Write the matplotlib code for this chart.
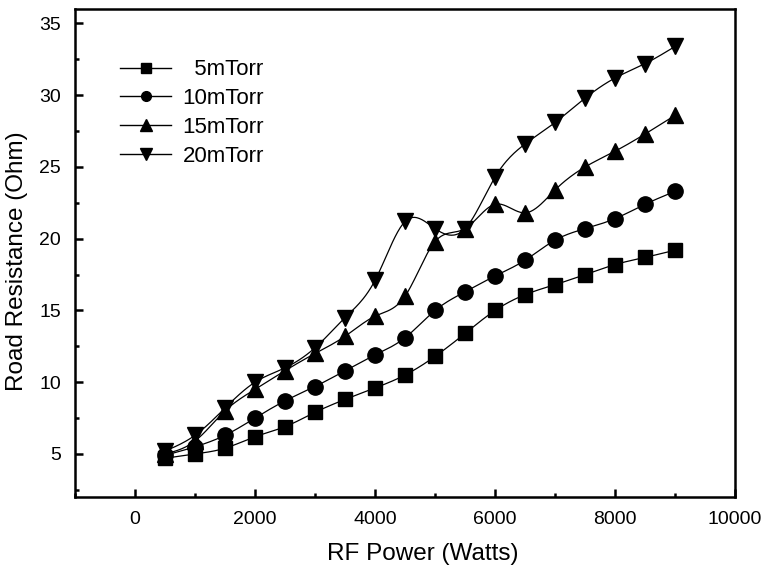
import numpy as np
import matplotlib
matplotlib.use("Agg")
import matplotlib.pyplot as plt
from matplotlib.ticker import MultipleLocator

plt.rcParams['font.family'] = ['Liberation Sans', 'DejaVu Sans']

power = [500, 1000, 1500, 2000, 2500, 3000, 3500, 4000, 4500,
         5000, 5500, 6000, 6500, 7000, 7500, 8000, 8500, 9000]
r5 = [4.7, 5.0, 5.4, 6.2, 6.9, 7.9, 8.8, 9.6, 10.5,
      11.8, 13.4, 15.0, 16.1, 16.8, 17.5, 18.2, 18.7, 19.2]
r10 = [4.9, 5.5, 6.3, 7.5, 8.7, 9.7, 10.8, 11.9, 13.1,
       15.0, 16.3, 17.4, 18.5, 19.9, 20.7, 21.4, 22.4, 23.3]
r15 = [5.0, 5.9, 8.0, 9.5, 10.8, 12.0, 13.2, 14.6, 16.0,
       19.8, 20.7, 22.4, 21.8, 23.4, 25.0, 26.1, 27.3, 28.6]
r20 = [5.2, 6.3, 8.2, 10.0, 11.0, 12.4, 14.5, 17.1, 21.2,
       20.7, 20.7, 24.3, 26.6, 28.1, 29.8, 31.2, 32.2, 33.4]
labels = ['  5mTorr', '10mTorr', '15mTorr', '20mTorr']
markers = ['s', 'o', '^', 'v']
msizes = [10.5, 11, 12, 12]
legend_ms = [6.5, 7, 8, 8]


def natural_spline(x, y, n=400):
    x = np.asarray(x, float)
    y = np.asarray(y, float)
    m = len(x)
    h = np.diff(x)
    A = np.zeros((m, m))
    b = np.zeros(m)
    A[0, 0] = A[-1, -1] = 1
    for i in range(1, m - 1):
        A[i, i - 1] = h[i - 1]
        A[i, i] = 2 * (h[i - 1] + h[i])
        A[i, i + 1] = h[i]
        b[i] = 6 * ((y[i + 1] - y[i]) / h[i] - (y[i] - y[i - 1]) / h[i - 1])
    M = np.linalg.solve(A, b)
    xs = np.linspace(x[0], x[-1], n)
    idx = np.clip(np.searchsorted(x, xs) - 1, 0, m - 2)
    x0, x1 = x[idx], x[idx + 1]
    hh = x1 - x0
    t0 = x1 - xs
    t1 = xs - x0
    ys = (M[idx] * t0 ** 3 / (6 * hh) + M[idx + 1] * t1 ** 3 / (6 * hh)
          + (y[idx] / hh - M[idx] * hh / 6) * t0
          + (y[idx + 1] / hh - M[idx + 1] * hh / 6) * t1)
    return xs, ys


fig = plt.figure(figsize=(7.65, 5.68), dpi=100)
ax = fig.add_axes([0.098, 0.125, 0.863, 0.859])

for ser, lab, mk, ms, lms in zip([r5, r10, r15, r20], labels, markers, msizes, legend_ms):
    xs, ys = natural_spline(power, ser)
    ax.plot(xs, ys, color='black', lw=0.9)
    ax.plot(power, ser, linestyle='none', marker=mk, ms=ms, color='black')
    ax.plot([], [], color='black', lw=1.0, marker=mk, ms=lms, label=lab)

ax.set_xlim(-1000, 10000)
ax.set_ylim(2, 36)
ax.xaxis.set_minor_locator(MultipleLocator(1000))
ax.yaxis.set_minor_locator(MultipleLocator(2.5))
ax.set_xticks([0, 2000, 4000, 6000, 8000, 10000])
ax.set_yticks([5, 10, 15, 20, 25, 30, 35])
ax.tick_params(which='both', direction='in', width=1.8, labelsize=14, top=False, right=False)
ax.tick_params(which='major', length=6, pad=10)
ax.tick_params(which='minor', length=3)
for s in ax.spines.values():
    s.set_linewidth(1.8)

ax.set_xlabel('RF Power (Watts)', fontsize=17.5)
ax.set_ylabel('Road Resistance (Ohm)', fontsize=17.5)
ax.xaxis.set_label_coords(0.527, -0.095)
ax.yaxis.set_label_coords(-0.071, 0.484)

ax.legend(loc='upper left', bbox_to_anchor=(0.055, 0.915), frameon=False,
          fontsize=16, handlelength=2.3, handletextpad=0.5, labelspacing=0.35,
          numpoints=1, borderaxespad=0)

fig.savefig('out.png', dpi=100)
